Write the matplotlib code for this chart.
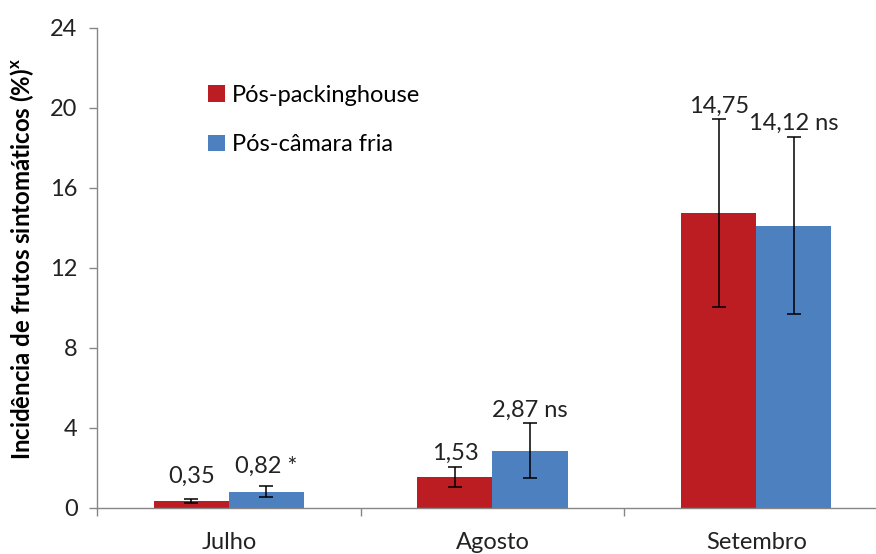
import numpy as np
import matplotlib.pyplot as plt
from matplotlib.ticker import FixedLocator

plt.rcParams['font.family'] = ['Lato', 'DejaVu Sans']
plt.rcParams['mathtext.fontset'] = 'custom'
plt.rcParams['mathtext.rm'] = 'Lato'
plt.rcParams['mathtext.bf'] = 'Lato:bold'

# incidence of symptomatic fruit per month (%)
months = ['Julho', 'Agosto', 'Setembro']
series = ['Pós-packinghouse', 'Pós-câmara fria']
packing = [0.35, 1.53, 14.75]
packing_err = [0.11, 0.50, 4.68]
camara = [0.82, 2.87, 14.12]
camara_err = [0.28, 1.38, 4.42]
signif = ['*', 'ns', 'ns']

# vertical gap (pixels) between bar top and its value label
packing_lab_off = [18, 18, 100]
camara_lab_off = [19, 34, 96]

red = '#BC1D23'
blue = '#4D80BE'
grey = '#868686'
fs = 17

fig = plt.figure(figsize=(8.76, 5.54), dpi=100)
ax = fig.add_axes([97 / 876, 46 / 554, 791 / 876, 480 / 554])

x = np.arange(len(months))
w = 0.285
err_kw = dict(ecolor='black', elinewidth=1.1, capsize=4.7, capthick=1.1)
b1 = ax.bar(x - w / 2, packing, w, color=red, yerr=packing_err,
            error_kw=err_kw, label=series[0], zorder=2)
b2 = ax.bar(x + w / 2, camara, w, color=blue, yerr=camara_err,
            error_kw=err_kw, label=series[1], zorder=2)

def fmt(v):
    return f'{v:.2f}'.replace('.', ',')

for i in range(len(months)):
    ax.annotate(fmt(packing[i]), (x[i] - w / 2, packing[i]),
                xytext=(0, packing_lab_off[i]), textcoords='offset pixels',
                ha='center', va='baseline', fontsize=fs, color='#222222')
    ax.annotate(fmt(camara[i]) + ' ' + signif[i], (x[i] + w / 2, camara[i]),
                xytext=(0, camara_lab_off[i]), textcoords='offset pixels',
                ha='center', va='baseline', fontsize=fs, color='#222222')

ax.set_xlim(-0.5, 2.5)
ax.set_ylim(0, 24)
ax.set_yticks(np.arange(0, 25, 4))
ax.tick_params(axis='y', labelsize=fs, colors=grey, labelcolor='#222222',
               length=6, width=1, pad=8)

# category separators as major ticks, names centred as minor ticks
ax.xaxis.set_major_locator(FixedLocator([-0.5, 0.5, 1.5, 2.5]))
ax.xaxis.set_minor_locator(FixedLocator(x))
ax.set_xticklabels([])
ax.set_xticklabels(months, minor=True)
ax.tick_params(axis='x', which='major', length=6, width=1, colors=grey)
ax.tick_params(axis='x', which='minor', length=0, pad=17, labelsize=fs,
               labelcolor='#222222')

for s in ['top', 'right']:
    ax.spines[s].set_visible(False)
for s in ['left', 'bottom']:
    ax.spines[s].set_color(grey)
    ax.spines[s].set_linewidth(1)

ax.set_ylabel('Incidência de frutos sintomáticos (%)$^{\\mathbf{x}}$',
              fontsize=17.3, fontweight='bold')
ax.yaxis.set_label_coords(-0.077, 0.52)

ax.legend(loc='upper left', bbox_to_anchor=(0.114, 0.926), frameon=False,
          fontsize=fs, handlelength=0.7, handleheight=0.7,
          handletextpad=0.3, labelspacing=1.21)

fig.savefig('out.png', dpi=100)
